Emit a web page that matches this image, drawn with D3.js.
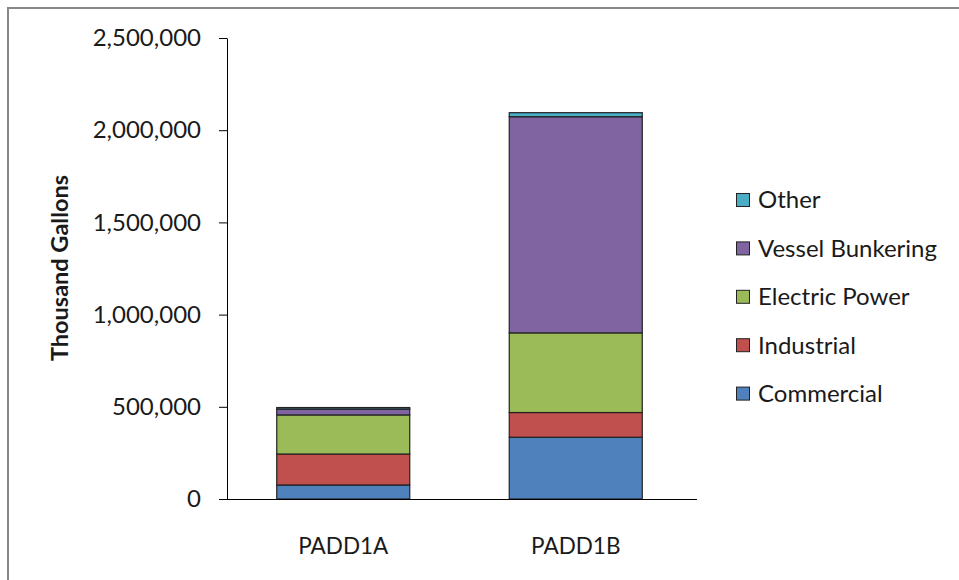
<!DOCTYPE html>
<html>
<head>
<meta charset="utf-8">
<script src="https://cdn.jsdelivr.net/npm/d3@7"></script>
<style>
  html, body { margin: 0; padding: 0; background: #fff; }
  svg text { font-family: Lato, "Open Sans", sans-serif; fill: #1a1a1a; }
</style>
</head>
<body>
<svg id="chart" width="959" height="580"></svg>
<script>
// Regions on the x axis
const regions = ["PADD1A", "PADD1B"];

// Sector volumes (thousand gallons), bottom to top of each stack
const commercial    = [76000, 335000];
const industrial    = [168000, 134000];
const electricPower = [212000, 432000];
const vesselBunker  = [32000, 1172000];
const other         = [8000, 22000];

const seriesNames  = ["Commercial", "Industrial", "Electric Power", "Vessel Bunkering", "Other"];
const seriesValues = [commercial, industrial, electricPower, vesselBunker, other];
const seriesColors = ["#4F81BD", "#C0504D", "#9BBB59", "#8064A2", "#4BACC6"];

const yTicks = [0, 500000, 1000000, 1500000, 2000000, 2500000];

const svg = d3.select("#chart");

// outer frame
svg.append("path")
  .attr("d", "M8,580 V8 H959")
  .attr("fill", "none")
  .attr("stroke", "#888")
  .attr("stroke-width", 2);

const plot = { left: 227, right: 697, top: 38, bottom: 499 };

const x = d3.scaleBand().domain(regions).range([plot.left, plot.right - 5]).padding(0);
const y = d3.scaleLinear().domain([0, 2500000]).range([plot.bottom, plot.top]);

// stacked table built from the arrays
const table = regions.map((r, i) => {
  const row = { region: r };
  seriesNames.forEach((s, k) => row[s] = seriesValues[k][i]);
  return row;
});
const stack = d3.stack().keys(seriesNames)(table);

const barW = 133;
svg.append("g").selectAll("g")
  .data(stack)
  .join("g")
  .attr("fill", (d, i) => seriesColors[i])
  .selectAll("rect")
  .data(d => d)
  .join("rect")
  .attr("x", d => x(d.data.region) + x.bandwidth() / 2 - barW / 2)
  .attr("width", barW)
  .attr("y", d => y(d[1]))
  .attr("height", d => y(d[0]) - y(d[1]))
  .attr("stroke", "#222")
  .attr("stroke-width", 1.2);

// y axis
const yAxis = d3.axisLeft(y).tickValues(yTicks).tickSize(8).tickSizeOuter(0)
  .tickFormat(d3.format(","));
const gy = svg.append("g").attr("transform", `translate(${plot.left},0)`).call(yAxis);
gy.select(".domain").attr("stroke", "#000");
gy.selectAll(".tick line").attr("stroke", "#000");
gy.selectAll(".tick text").attr("x", -26).attr("font-size", 24).attr("fill", "#1a1a1a")
  .style("font-family", "Lato, 'Open Sans', sans-serif");

// x axis
const xAxis = d3.axisBottom(x).tickSize(0).tickSizeOuter(0);
const gx = svg.append("g").attr("transform", `translate(0,${plot.bottom})`).call(xAxis);
gx.select(".domain").attr("stroke", "#000").attr("d", `M${plot.left - 8},0.5H${plot.right}`);
gx.selectAll(".tick text").attr("dy", 0).attr("y", 55).attr("font-size", 22.5).attr("fill", "#1a1a1a")
  .style("font-family", "Lato, 'Open Sans', sans-serif");

// axis title
svg.append("text")
  .attr("transform", "translate(68,268) rotate(-90)")
  .attr("text-anchor", "middle")
  .attr("font-size", 23.5)
  .attr("font-weight", "bold")
  .text("Thousand Gallons");

// legend, top entry is the top of the stack
const legendItems = seriesNames.map((n, i) => ({ name: n, color: seriesColors[i] })).reverse();
const lg = svg.append("g").selectAll("g")
  .data(legendItems)
  .join("g")
  .attr("transform", (d, i) => `translate(736,${200 + i * 48.4})`);
lg.append("rect")
  .attr("x", 0.5).attr("y", -6.5).attr("width", 13).attr("height", 13)
  .attr("fill", d => d.color).attr("stroke", "#222").attr("stroke-width", 1);
lg.append("text")
  .attr("x", 22).attr("dy", "0.35em")
  .attr("font-size", 24)
  .text(d => d.name);
</script>
</body>
</html>
